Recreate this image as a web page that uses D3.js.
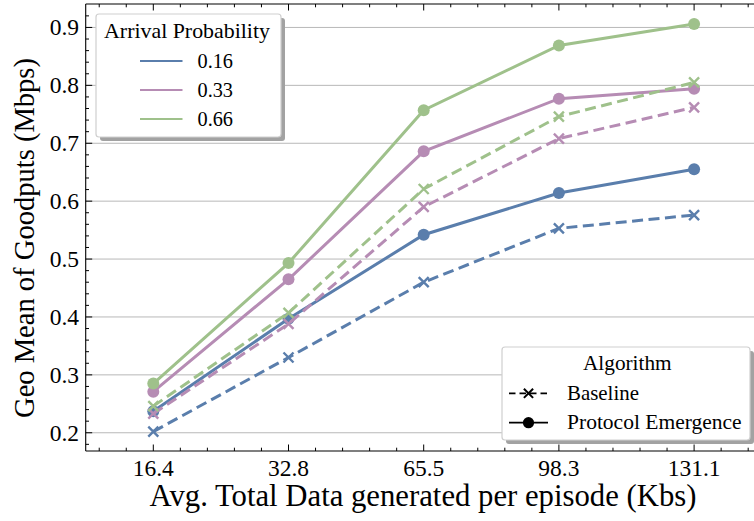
<!DOCTYPE html>
<html>
<head>
<meta charset="utf-8">
<script src="https://cdn.jsdelivr.net/npm/d3@7"></script>
</head>
<body style="margin:0">
<svg id="chart" width="754" height="521" font-family="'Liberation Serif', 'Times New Roman', 'DejaVu Serif'"></svg>
<script>
// Episode data sizes (Kbs) shown on the x axis
const dataSizes = ["16.4", "32.8", "65.5", "98.3", "131.1"];
const yTicks = [0.2, 0.3, 0.4, 0.5, 0.6, 0.7, 0.8, 0.9];

// Arrival probabilities and their colours
const probabilities = ["0.16", "0.33", "0.66"];
const colors = ["#5a7eac", "#b68cb4", "#9fc18b"];

// Geometric mean of goodputs (Mbps), per arrival probability
const baseline016 = [0.202, 0.330, 0.460, 0.553, 0.576];
const emergence016 = [0.237, 0.397, 0.542, 0.614, 0.655];
const baseline033 = [0.233, 0.388, 0.590, 0.708, 0.762];
const emergence033 = [0.271, 0.465, 0.686, 0.777, 0.794];
const baseline066 = [0.246, 0.407, 0.621, 0.746, 0.805];
const emergence066 = [0.285, 0.493, 0.757, 0.869, 0.906];

const series = [
  { prob: 0, algo: "Baseline", values: baseline016 },
  { prob: 0, algo: "Protocol Emergence", values: emergence016 },
  { prob: 1, algo: "Baseline", values: baseline033 },
  { prob: 1, algo: "Protocol Emergence", values: emergence033 },
  { prob: 2, algo: "Baseline", values: baseline066 },
  { prob: 2, algo: "Protocol Emergence", values: emergence066 }
];

const FONT = '"Liberation Serif", "Times New Roman", "DejaVu Serif"';
const svg = d3.select("#chart");
const margin = { left: 85.7, top: 4, bottom: 451 };
const plotRight = 761.7;

const x = d3.scaleLinear().domain([-0.5, dataSizes.length - 0.5]).range([margin.left, plotRight]);
const y = d3.scaleLinear().domain([0.1685, 0.9405]).range([margin.bottom, margin.top]);

// clip to the axes area
svg.append("defs").append("clipPath").attr("id", "clip")
  .append("rect").attr("x", margin.left).attr("y", margin.top)
  .attr("width", plotRight - margin.left).attr("height", margin.bottom - margin.top);

// horizontal grid
yTicks.forEach(v => {
  svg.append("line").attr("x1", margin.left).attr("x2", plotRight)
    .attr("y1", y(v)).attr("y2", y(v))
    .attr("stroke", "#b8b8b8").attr("stroke-width", 1);
});

// series
const line = d3.line().x((d, i) => x(i)).y(d => y(d));
series.forEach(s => {
  const c = colors[s.prob];
  svg.append("path").datum(s.values).attr("clip-path", "url(#clip)")
    .attr("d", line).attr("fill", "none").attr("stroke", c)
    .attr("stroke-width", 3)
    .attr("stroke-dasharray", s.algo === "Baseline" ? "11,5.5" : null);
  s.values.forEach((d, i) => {
    const cx = x(i), cy = y(d);
    if (s.algo === "Baseline") {
      const r = 5;
      svg.append("path")
        .attr("d", `M${cx - r},${cy - r}L${cx + r},${cy + r}M${cx - r},${cy + r}L${cx + r},${cy - r}`)
        .attr("stroke", c).attr("stroke-width", 2.4).attr("fill", "none");
    } else {
      svg.append("circle").attr("cx", cx).attr("cy", cy).attr("r", 6).attr("fill", c);
    }
  });
});

// axes frame with inward ticks
function seg(x1, y1, x2, y2, w) {
  svg.append("line").attr("x1", x1).attr("x2", x2).attr("y1", y1).attr("y2", y2)
    .attr("stroke", "#000").attr("stroke-width", w);
}
seg(margin.left, margin.top, plotRight, margin.top, 1.1);
seg(margin.left, margin.bottom, plotRight, margin.bottom, 1.1);
seg(margin.left, margin.top, margin.left, margin.bottom, 1.1);

const xMajor = d3.range(dataSizes.length);
const xMinor = d3.range(-0.4, dataSizes.length - 0.5, 0.2).filter(v => Math.abs(v - Math.round(v)) > 1e-6);
const yMinor = d3.range(0.18, 0.94, 0.02).filter(v => Math.abs(v * 10 - Math.round(v * 10)) > 1e-6);

function ticks(vals, len, isX) {
  vals.forEach(v => {
    if (isX) {
      const px = x(v);
      seg(px, margin.bottom, px, margin.bottom - len, 1);
      seg(px, margin.top, px, margin.top + len, 1);
    } else {
      const py = y(v);
      seg(margin.left, py, margin.left + len, py, 1);
    }
  });
}
ticks(xMajor, 6.5, true);
ticks(xMinor, 3.3, true);
ticks(yTicks, 6.5, false);
ticks(yMinor, 3.3, false);

// text helper: serif face, optional width fitting via the font size
function label(str, size, fitWidth) {
  const t = svg.append("text")
    .style("font-family", FONT)
    .attr("font-size", size).attr("fill", "#000").text(str);
  if (fitWidth) {
    const w = t.node().getComputedTextLength();
    if (w > 0) t.attr("font-size", size * fitWidth / w);
  }
  return t;
}

// legend frames
function legendBox(x0, y0, w, h) {
  svg.append("rect").attr("x", x0 + 4).attr("y", y0 + 4).attr("width", w).attr("height", h)
    .attr("rx", 3).attr("fill", "#a2a2a2");
  svg.append("rect").attr("x", x0).attr("y", y0).attr("width", w).attr("height", h)
    .attr("rx", 3).attr("fill", "#fff").attr("stroke", "#cfcfcf").attr("stroke-width", 1.2);
}

// tick labels
dataSizes.forEach((d, i) => {
  label(d, 23.5).attr("x", x(i)).attr("y", 476).attr("text-anchor", "middle");
});
yTicks.forEach(v => {
  label(v.toFixed(1), 23.5).attr("x", 79).attr("y", y(v) + 8).attr("text-anchor", "end");
});

// axis titles
label("Avg. Total Data generated per episode (Kbs)", 26, 547)
  .attr("x", 423).attr("y", 505.5).attr("text-anchor", "middle");
label("Geo Mean of Goodputs (Mbps)", 26, 360)
  .attr("transform", "translate(34,238) rotate(-90)").attr("text-anchor", "middle");

// arrival probability legend
legendBox(96, 14, 185, 123);
label("Arrival Probability", 20, 166).attr("x", 187).attr("y", 38.3).attr("text-anchor", "middle");
probabilities.forEach((p, i) => {
  const ly = 61 + i * 29;
  svg.append("line").attr("x1", 140).attr("x2", 182.5).attr("y1", ly).attr("y2", ly)
    .attr("stroke", colors[i]).attr("stroke-width", 1.8);
  label(p, 20.3).attr("x", 197.5).attr("y", ly + 6.8);
});

// algorithm legend
legendBox(502, 347, 248, 93);
label("Algorithm", 20, 88.7).attr("x", 627.3).attr("y", 370).attr("text-anchor", "middle");
const algos = ["Baseline", "Protocol Emergence"];
const algoWidths = [72, 174.7];
algos.forEach((a, i) => {
  const ly = 393.3 + i * 29.4;
  svg.append("line").attr("x1", 509).attr("x2", 548).attr("y1", ly).attr("y2", ly)
    .attr("stroke", "#000").attr("stroke-width", 1.8)
    .attr("stroke-dasharray", a === "Baseline" ? "6.5,4" : null);
  if (a === "Baseline") {
    const r = 4.6, cx = 528.5;
    svg.append("path").attr("d", `M${cx - r},${ly - r}L${cx + r},${ly + r}M${cx - r},${ly + r}L${cx + r},${ly - r}`)
      .attr("stroke", "#000").attr("stroke-width", 2);
  } else {
    svg.append("circle").attr("cx", 528.5).attr("cy", ly).attr("r", 5.6).attr("fill", "#000");
  }
  label(a, 20, algoWidths[i]).attr("x", 567).attr("y", ly + 6.7);
});
</script>
</body>
</html>
